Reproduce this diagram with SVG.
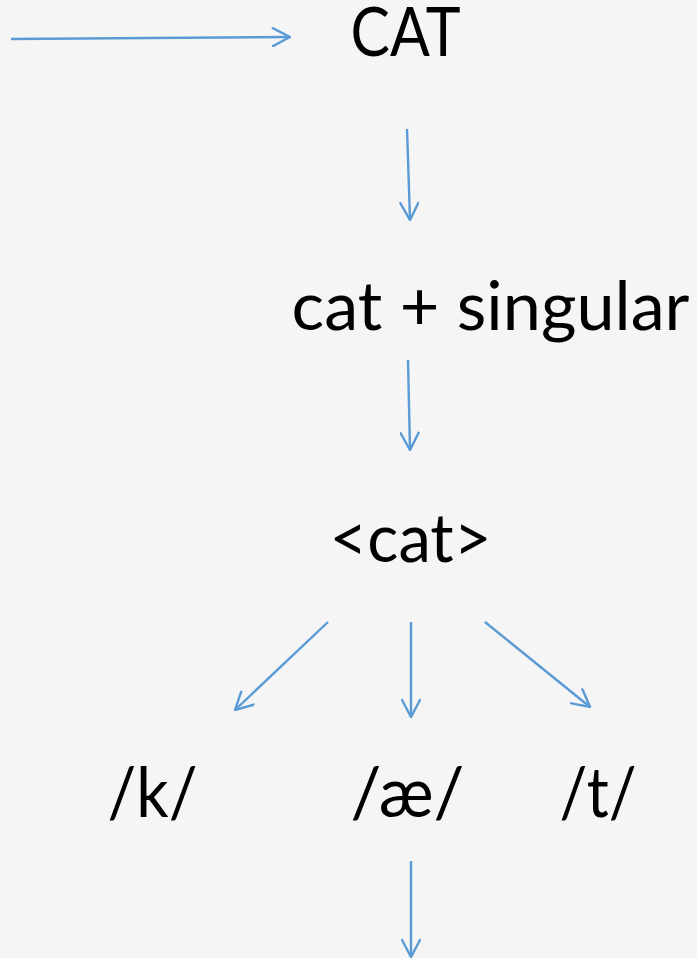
<svg xmlns="http://www.w3.org/2000/svg" width="697" height="958" viewBox="0 0 697 958">
<style>
.t{font-family:Lato,"Open Sans","Liberation Sans",sans-serif;font-size:67px;fill:#000;text-anchor:middle}
.p{font-size:70px}
.c{stroke:#5B9BD5;stroke-width:2.4;fill:none;marker-end:url(#ah)}
</style>
<defs>
<marker id="ah" markerUnits="userSpaceOnUse" viewBox="0 0 20 20" markerWidth="20" markerHeight="20" refX="19" refY="10" orient="auto">
<path d="M1,0.5 L19,10 L1,19.5" fill="none" stroke="#5B9BD5" stroke-width="2.4"/>
</marker>
</defs>
<rect width="697" height="958" fill="#F5F5F5"/>
<g id="connectors">
<line class="c" x1="11" y1="39" x2="290" y2="37"/>
<line class="c" x1="407" y1="129" x2="410" y2="220"/>
<line class="c" x1="408" y1="360" x2="410" y2="450"/>
<line class="c" x1="328" y1="622" x2="235" y2="710"/>
<line class="c" x1="411" y1="622" x2="411" y2="717"/>
<line class="c" x1="485" y1="622" x2="590" y2="707"/>
<line class="c" x1="411" y1="861" x2="411" y2="957"/>
</g>
<g id="n-CAT"><text class="t" x="405.5" y="56" textLength="110" lengthAdjust="spacingAndGlyphs">CAT</text></g>
<g id="n-cat-singular"><text class="t" x="490.5" y="330" textLength="398" lengthAdjust="spacingAndGlyphs">cat + singular</text></g>
<g id="n-cat-graph"><text class="t" x="410.5" y="562" textLength="162" lengthAdjust="spacingAndGlyphs">&lt;cat&gt;</text></g>
<g id="n-k"><text class="t p" x="152.5" y="817" textLength="90" lengthAdjust="spacingAndGlyphs">/k/</text></g>
<g id="n-ae"><text class="t p" x="407.5" y="817" textLength="114" lengthAdjust="spacingAndGlyphs">/æ/</text></g>
<g id="n-t"><text class="t p" x="598" y="817" textLength="77" lengthAdjust="spacingAndGlyphs">/t/</text></g>
</svg>
